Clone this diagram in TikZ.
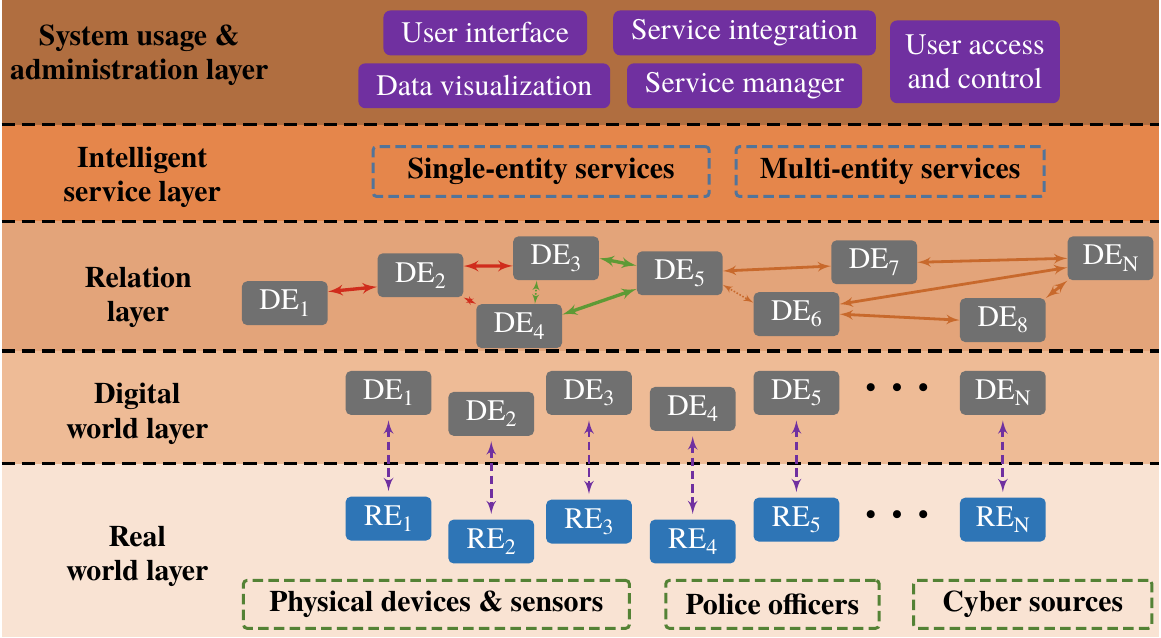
\documentclass[tikz,border=0pt]{standalone}
\usepackage{fontspec}
\setmainfont{texgyretermes}[Extension=.otf, UprightFont=*-regular,
  BoldFont=*-bold, ItalicFont=*-italic, BoldItalicFont=*-bolditalic]
\usepackage{xcolor}
\usepackage{tikz}
\usetikzlibrary{shapes,arrows}
\definecolor{bandusage}{HTML}{B06E40}
\definecolor{bandservice}{HTML}{E5864B}
\definecolor{bandrelation}{HTML}{E3A47A}
\definecolor{banddigital}{HTML}{EEBB96}
\definecolor{bandreal}{HTML}{F9E3D3}
\definecolor{usepurple}{HTML}{7030A0}
\definecolor{degray}{HTML}{707070}
\definecolor{reblue}{HTML}{2E75B6}
\definecolor{svcblue}{HTML}{52749A}
\definecolor{srcgreen}{HTML}{548235}
\definecolor{relred}{HTML}{D02C1C}
\definecolor{relgreen}{HTML}{5E9A35}
\definecolor{relorange}{HTML}{C8692C}
\newcommand{\lyrfont}{\fontsize{17}{19.5}\selectfont}
\newcommand{\esub}[1]{\raisebox{-3.5pt}{\fontsize{12.5}{12.5}\selectfont #1}}
\tikzstyle{layertext} = [align=center, text=black, font=\lyrfont\bfseries]
\tikzstyle{usebox} = [rectangle, rounded corners=4pt, fill=usepurple,
                      text=white, font=\lyrfont, align=center,
                      minimum height=0.9cm, inner xsep=0.36cm]
\tikzstyle{svcbox} = [rectangle, draw=svcblue, line width=1.7pt,
                      dash pattern=on 6pt off 3pt, rounded corners=2pt,
                      font=\lyrfont\bfseries, minimum height=1cm]
\tikzstyle{srcbox} = [svcbox, draw=srcgreen, minimum height=0.96cm]
\tikzstyle{debox} = [rectangle, rounded corners=3pt, fill=degray, text=white,
                     font=\lyrfont, minimum width=1.72cm, minimum height=0.88cm,
                     inner sep=0pt]
\tikzstyle{rebox} = [debox, fill=reblue]
\tikzstyle{layerline} = [draw, line width=1.8pt, dash pattern=on 7.5pt off 4pt]
\tikzstyle{redline} = [draw, line width=1.9pt, relred, latex'-latex']
\tikzstyle{greenline} = [draw, line width=1.9pt, relgreen, latex'-latex']
\tikzstyle{orangeline} = [draw, line width=1.6pt, relorange, latex'-latex']
\tikzstyle{twinline} = [draw, line width=1.6pt, dash pattern=on 5pt off 2.5pt,
                        usepurple, latex'-latex', shorten <=3pt, shorten >=3pt]

\begin{document}
\begin{tikzpicture}[x=0.02cm, y=-0.02cm]
% layer bands
\fill[bandusage] (0,0) rectangle (1161,125);
\fill[bandservice] (0,125) rectangle (1161,222);
\fill[bandrelation] (0,222) rectangle (1161,352);
\fill[banddigital] (0,352) rectangle (1161,465);
\fill[bandreal] (0,465) rectangle (1161,639);
\path[layerline] (0,125) -- (1161,125);
\path[layerline] (0,222) -- (1161,222);
\path[layerline] (0,352) -- (1161,352);
\path[layerline] (0,465) -- (1161,465);

\node[layertext] (usage) at (138,55) {System usage \&\\administration layer};
\node[layertext] (service) at (141,178) {Intelligent\\service layer};
\node[layertext] (relation) at (137,298) {Relation\\layer};
\node[layertext] (digital) at (136,415) {Digital\\world layer};
\node[layertext] (real) at (136,558) {Real\\world layer};

% system usage & administration layer
\node[usebox] (ui) at (485,33) {User interface};
\node[usebox] (integ) at (745,33) {Service integration};
\node[usebox] (visual) at (484,86) {Data visualization};
\node[usebox] (manager) at (745,86) {Service manager};
\node[usebox, minimum height=1.66cm, inner xsep=0.3cm] (access) at (976,62) {User access\\and control};

% intelligent service layer
\node[svcbox, minimum width=6.74cm] (single) at (541,172) {Single-entity services};
\node[svcbox, minimum width=6.18cm] (multi) at (891,172) {Multi-entity services};

% relation layer
\node[debox] (rel1) at (284,304) {DE\esub{1}};
\node[debox] (rel2) at (420,276) {DE\esub{2}};
\node[debox] (rel3) at (556,259) {DE\esub{3}};
\node[debox] (rel4) at (519,327) {DE\esub{4}};
\node[debox] (rel5) at (680,274) {DE\esub{5}};
\node[debox] (rel6) at (797,315) {DE\esub{6}};
\node[debox] (rel7) at (875,263) {DE\esub{7}};
\node[debox] (rel8) at (1004,321) {DE\esub{8}};
\node[debox] (relN) at (1112,259) {DE\esub{N}};

\path[redline] (rel1.15) -- (rel2.195);
\path[redline] (rel2.12) -- (rel3.190);
\path[redline, line width=0.9pt, densely dotted] (rel2.south east) -- (rel4.north west);
\path[greenline] (rel3.east) -- (rel5.170);
\path[greenline, line width=0.9pt, densely dotted] ([xshift=9pt]rel4.north) -- ([xshift=-11pt]rel3.south);
\path[greenline] (rel4.15) -- (rel5.200);
\path[orangeline] (rel5.3) -- (rel7.185);
\path[orangeline, line width=0.9pt, densely dotted] (rel5.345) -- (rel6.165);
\path[orangeline] (rel7.east) -- (relN.west);
\path[orangeline] (rel6.13) -- (relN.192);
\path[orangeline] (rel6.east) -- (rel8.west);
\path[orangeline] (rel8.north east) -- (relN.south west);

% digital world layer
\node[debox] (de1) at (388,394) {DE\esub{1}};
\node[debox] (de2) at (491,415) {DE\esub{2}};
\node[debox] (de3) at (589,394) {DE\esub{3}};
\node[debox] (de4) at (693,410) {DE\esub{4}};
\node[debox] (de5) at (797,394) {DE\esub{5}};
\node[font=\lyrfont] (dedots) at (898,392) {\textbullet\hspace{9pt}\textbullet\hspace{9pt}\textbullet};
\node[debox] (deN) at (1004,394) {DE\esub{N}};

% real world layer
\node[rebox] (re1) at (388,520) {RE\esub{1}};
\node[rebox] (re2) at (491,543) {RE\esub{2}};
\node[rebox] (re3) at (589,523) {RE\esub{3}};
\node[rebox] (re4) at (693,543) {RE\esub{4}};
\node[rebox] (re5) at (797,521) {RE\esub{5}};
\node[font=\lyrfont] (redots) at (898,519) {\textbullet\hspace{9pt}\textbullet\hspace{9pt}\textbullet};
\node[rebox] (reN) at (1004,521) {RE\esub{N}};

\path[twinline] (de1) -- (re1);
\path[twinline] (de2) -- (re2);
\path[twinline] (de3) -- (re3);
\path[twinline] (de4) -- (re4);
\path[twinline] (de5) -- (re5);
\path[twinline] (deN) -- (reN);

\node[srcbox, minimum width=7.74cm] (devices) at (436,606) {Physical devices \& sensors};
\node[srcbox, minimum width=4.28cm] (police) at (773,606) {Police officers};
\node[srcbox, minimum width=4.78cm] (cyber) at (1034,606) {Cyber sources};

\end{tikzpicture}
\end{document}
